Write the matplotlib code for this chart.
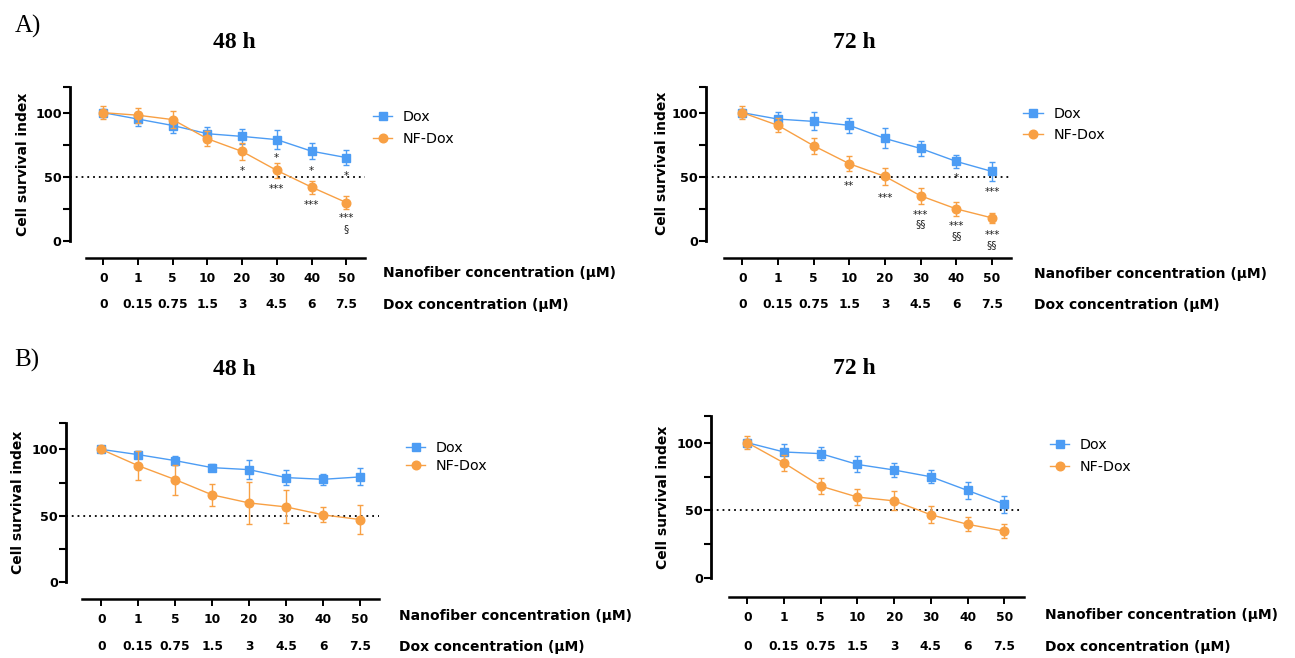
import matplotlib
matplotlib.use("Agg")
import matplotlib.pyplot as plt
from matplotlib.lines import Line2D

W, H, DPI = 1295, 658, 100

# ---------------- data ----------------
nanofiber_ticks = ["0", "1", "5", "10", "20", "30", "40", "50"]
dox_ticks = ["0", "0.15", "0.75", "1.5", "3", "4.5", "6", "7.5"]
series_labels = ["Dox", "NF-Dox"]
nanofiber_axis_label = "Nanofiber concentration (μM)"
dox_axis_label = "Dox concentration (μM)"
y_axis_label = "Cell survival index"
panel_letters = ["A)", "B)"]
panel_titles = ["48 h", "72 h", "48 h", "72 h"]
y_tick_values = [0, 25, 50, 75, 100, 120]
y_tick_labels = ["0", "", "50", "", "100", ""]
threshold = 50

a48_dox = [100, 95, 90, 83.6, 81.5, 79, 70, 65]
a48_dox_err = [3, 5.6, 6.1, 5.2, 6, 7.2, 6.1, 6]
a48_nf = [100, 98, 94.6, 79.7, 69.8, 55, 42, 30]
a48_nf_err = [5.2, 5.9, 6.5, 5.9, 6.8, 6, 5.1, 5]

a72_dox = [100, 95, 93.2, 90.1, 79.9, 72.1, 62, 54.2]
a72_dox_err = [3, 5.2, 7, 6.1, 7.8, 5.9, 5.2, 7.2]
a72_nf = [100, 90.1, 74.2, 60.2, 50.3, 35.2, 25, 18]
a72_nf_err = [5, 5.5, 6.1, 5.9, 6.9, 6.1, 5.2, 4]

b48_dox = [100, 96, 91.5, 86.2, 84.7, 78.7, 77.4, 79.2]
b48_dox_err = [2, 2.5, 3.1, 2.6, 7.1, 5.6, 4, 6.4]
b48_nf = [100, 87.7, 77.2, 65.7, 59.6, 56.6, 50.6, 47.1]
b48_nf_err = [1, 11, 11.3, 8.5, 15.7, 12.5, 5.6, 10.7]

b72_dox = [100, 93.1, 91.9, 83.9, 79.8, 74.8, 64.7, 54.6]
b72_dox_err = [3, 5.8, 4.9, 5.9, 5.2, 4.8, 6, 6.3]
b72_nf = [100, 85, 67.9, 59.8, 57, 46.7, 39.7, 34.6]
b72_nf_err = [4.9, 6.2, 5.9, 6.2, 7, 6.2, 5.1, 5.1]

# significance marks (category index, level in y units, text)
a48_sig_x = [4, 5, 5, 6, 6, 7, 7, 7]
a48_sig_y = [56.8, 67.2, 43, 56.8, 30.7, 52.9, 20.3, 9.6]
a48_sig_text = ["*", "*", "***", "*", "***", "*", "***", "§"]

a72_sig_x = [3, 4, 5, 5, 6, 6, 6, 7, 7, 7]
a72_sig_y = [45, 35.9, 22.4, 13.2, 51.4, 14.3, 4.1, 40.3, 7, -3.1]
a72_sig_text = ["**", "***", "***", "§§", "*", "***", "§§", "***", "***", "§§"]

b48_sig_x, b48_sig_y, b48_sig_text = [], [], []
b72_sig_x, b72_sig_y, b72_sig_text = [], [], []

# ---------------- styling ----------------
BLUE = "#4C9CF4"
ORANGE = "#F8A044"
SANS = "DejaVu Sans"
SERIF = "Liberation Serif"

# layout in figure pixels
panels = [
    dict(dox=a48_dox, dox_err=a48_dox_err, nf=a48_nf, nf_err=a48_nf_err,
         sx=a48_sig_x, sy=a48_sig_y, st=a48_sig_text, title=panel_titles[0],
         spine=69.5, tick0=103.3, tick7=346.2, line0=86, line1=364.7,
         ytop=87, ybot=241, xline=258.3, ylab=(23, 164.5), tpos=(234, 43),
         nlab=(382.7, 273), dlab=(383, 305), drow=305,
         leg=(373, 117, 0.54)),
    dict(dox=a72_dox, dox_err=a72_dox_err, nf=a72_nf, nf_err=a72_nf_err,
         sx=a72_sig_x, sy=a72_sig_y, st=a72_sig_text, title=panel_titles[1],
         spine=706, tick0=742.3, tick7=992, line0=723.5, line1=1011,
         ytop=87, ybot=241, xline=258.3, ylab=(661.7, 163.7), tpos=(854, 43),
         nlab=(1033.5, 274), dlab=(1033.5, 305), drow=305,
         leg=(1023.5, 114.3, 0.47)),
    dict(dox=b48_dox, dox_err=b48_dox_err, nf=b48_nf, nf_err=b48_nf_err,
         sx=b48_sig_x, sy=b48_sig_y, st=b48_sig_text, title=panel_titles[2],
         spine=65.7, tick0=101.2, tick7=360, line0=82, line1=379,
         ytop=422.8, ybot=582, xline=599.3, ylab=(17.8, 502.5), tpos=(234, 369.3),
         nlab=(398.8, 615.7), dlab=(398.8, 647.3), drow=646.7,
         leg=(406, 448.3, 0.29)),
    dict(dox=b72_dox, dox_err=b72_dox_err, nf=b72_nf, nf_err=b72_nf_err,
         sx=b72_sig_x, sy=b72_sig_y, st=b72_sig_text, title=panel_titles[3],
         spine=710.7, tick0=747.3, tick7=1004.3, line0=728.6, line1=1023.5,
         ytop=415.6, ybot=578, xline=596.7, ylab=(663, 497.5), tpos=(854, 368.3),
         nlab=(1045, 615), dlab=(1045, 646.7), drow=646.7,
         leg=(1050, 445, 0.56)),
]

PT = 72.0 / DPI  # points per pixel

fig = plt.figure(figsize=(W / DPI, H / DPI), dpi=DPI)
fig.patch.set_facecolor("white")


def fx(px):
    return px / W


def fy(py):
    return 1 - py / H


x = list(range(len(nanofiber_ticks)))

for p in panels:
    step = (p["tick7"] - p["tick0"]) / 7.0
    xl = (p["spine"] - p["tick0"]) / step
    xr = (p["line1"] - p["tick0"]) / step
    x0 = (p["line0"] - p["tick0"]) / step
    ax = fig.add_axes([fx(p["spine"]), fy(p["ybot"]),
                       (p["line1"] - p["spine"]) / W, (p["ybot"] - p["ytop"]) / H])
    ax.set_xlim(xl, xr)
    ax.set_ylim(0, 120)
    ax.set_facecolor("none")

    # spines
    for s in ("top", "right"):
        ax.spines[s].set_visible(False)
    ax.spines["left"].set_linewidth(2.0)
    ax.spines["bottom"].set_linewidth(1.8)
    ax.spines["bottom"].set_position(("outward", (p["xline"] - p["ybot"]) * PT))
    ax.spines["bottom"].set_bounds(x0, xr)
    ax.spines["left"].set_capstyle("projecting")

    # ticks
    ax.set_yticks(y_tick_values)
    ax.set_yticklabels(y_tick_labels, fontfamily=SANS, fontweight="bold", fontsize=9.2)
    ax.tick_params(axis="y", direction="out", length=4.8, width=1.5, pad=0.8)
    ax.set_xticks(x)
    ax.set_xticklabels(nanofiber_ticks, fontfamily=SANS, fontweight="bold", fontsize=8.8)
    ax.tick_params(axis="x", direction="out", length=5.0, width=1.4, pad=5.0)

    # threshold line
    ax.axhline(threshold, color="black", lw=1.3, linestyle=(0, (1, 2.2)), zorder=1)

    # series
    ax.errorbar(x, p["dox"], yerr=p["dox_err"], color=BLUE, marker="s", markersize=5.8,
                lw=1.0, elinewidth=1.0, capsize=2.4, capthick=1.0, zorder=3, clip_on=False)
    ax.errorbar(x, p["nf"], yerr=p["nf_err"], color=ORANGE, marker="o", markersize=6.2,
                lw=1.0, elinewidth=1.0, capsize=2.4, capthick=1.0, zorder=4, clip_on=False)

    # significance marks
    for xi, yi, t in zip(p["sx"], p["sy"], p["st"]):
        fs = 7.5
        c = 0.31 if "§" in t else 0.59
        ax.annotate(t, xy=(xi, yi), xytext=(0, -c * fs), textcoords="offset points",
                    ha="center", va="baseline", fontsize=fs, fontfamily=SANS,
                    color="#222222", annotation_clip=False, zorder=5)

    # second row of x labels (Dox concentration)
    for xi, lbl in zip(x, dox_ticks):
        ax.annotate(lbl, xy=(xi, 0), xycoords=("data", "axes fraction"),
                    xytext=(0, -(p["drow"] - p["ybot"]) * PT), textcoords="offset points",
                    ha="center", va="center", fontsize=8.8, fontfamily=SANS,
                    fontweight="bold", annotation_clip=False)

    # axis descriptions
    fig.text(fx(p["nlab"][0]), fy(p["nlab"][1]), nanofiber_axis_label, ha="left", va="center",
             fontsize=10, fontfamily=SANS, fontweight="bold")
    fig.text(fx(p["dlab"][0]), fy(p["dlab"][1]), dox_axis_label, ha="left", va="center",
             fontsize=10, fontfamily=SANS, fontweight="bold")
    fig.text(fx(p["ylab"][0]), fy(p["ylab"][1]), y_axis_label, ha="center", va="center",
             rotation=90, fontsize=10, fontfamily=SANS, fontweight="bold")

    # title
    fig.text(fx(p["tpos"][0]), fy(p["tpos"][1]), p["title"], ha="center", va="center",
             fontsize=17, fontfamily=SERIF, fontweight="bold")

    # legend
    handles = [Line2D([0], [0], color=BLUE, marker="s", markersize=5.8, lw=1.0),
               Line2D([0], [0], color=ORANGE, marker="o", markersize=6.2, lw=1.0)]
    lx, ly, ls = p["leg"]
    ax.legend(handles, series_labels, loc="upper left",
              bbox_to_anchor=(fx(lx), fy(ly - 7.2)), bbox_transform=fig.transFigure,
              frameon=False, borderpad=0, borderaxespad=0, handlelength=1.33,
              handletextpad=0.77, labelspacing=ls,
              prop=dict(family=SANS, size=10.3))

# panel letters
fig.text(fx(15), fy(26), panel_letters[0], ha="left", va="center", fontsize=18, fontfamily=SERIF)
fig.text(fx(14.5), fy(360), panel_letters[1], ha="left", va="center", fontsize=18, fontfamily=SERIF)

fig.savefig("out.png", dpi=DPI, facecolor="white")
